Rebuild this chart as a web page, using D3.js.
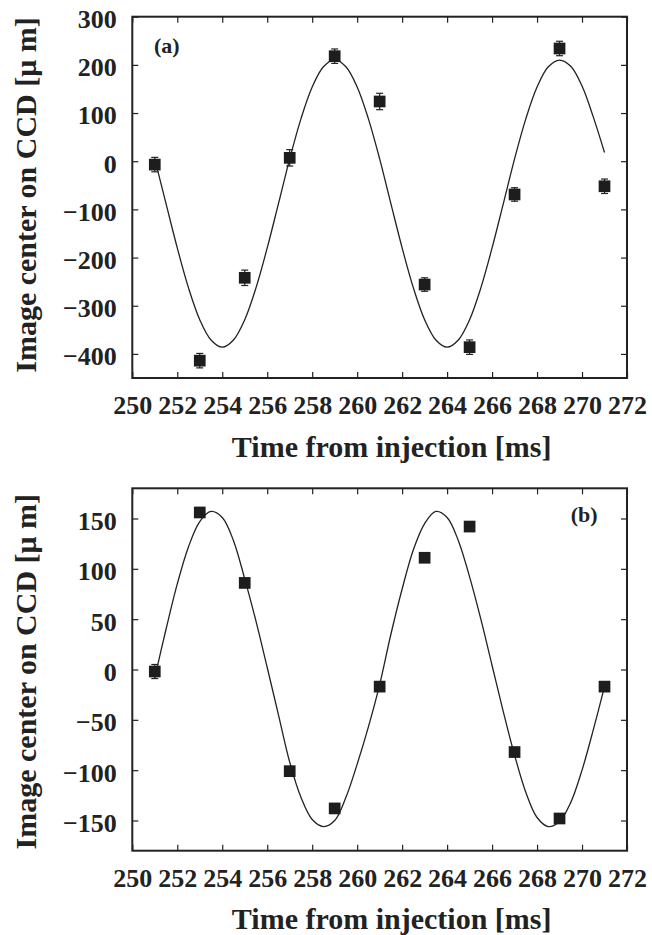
<!DOCTYPE html>
<html>
<head>
<meta charset="utf-8">
<script src="https://cdn.jsdelivr.net/npm/d3@7"></script>
<style>
  html, body { margin: 0; padding: 0; background: #fff; }
  svg { display: block; }
  text { font-family: "Liberation Serif", "Times New Roman", serif; font-weight: bold; fill: #222; }
</style>
</head>
<body>
<svg id="chart" width="652" height="935"></svg>
<script>
// ---- data ----
const timeA = [251, 253, 255, 257, 259, 261, 263, 265, 267, 269, 271];
const centerA = [-7, -414, -242, 7, 218, 124, -256, -386, -69, 234, -52];
const errA = [15, 15, 16, 17, 15, 17, 14, 15, 14, 15, 15];

const timeB = [251, 253, 255, 257, 259, 261, 263, 265, 267, 269, 271];
const centerB = [-2, 156, 86, -101, -138, -17, 111, 142, -82, -148, -17];
const errB = [7, 4, 4, 4, 4, 4, 4, 4, 4, 4, 4];

const fitTime = [251, 251.5, 252, 252.5, 253, 253.5, 254, 254.5, 255, 255.5,
                 256, 256.5, 257, 257.5, 258, 258.5, 259, 259.5, 260, 260.5,
                 261, 261.5, 262, 262.5, 263, 263.5, 264, 264.5, 265, 265.5,
                 266, 266.5, 267, 267.5, 268, 268.5, 269, 269.5, 270, 270.5, 271];
const fitA = [5, -88, -180, -263, -329, -371, -386, -371, -329, -263,
              -180, -88, 5, 88, 154, 196, 211, 196, 154, 88,
              5, -88, -180, -263, -329, -371, -386, -371, -329, -263,
              -180, -88, 5, 88, 154, 196, 210, 197, 156, 92, 18];
const fitB = [-8, 40, 85, 122, 147, 157, 151, 128, 90, 48,
              2, -45, -92, -127, -149, -156, -150, -127, -94, -57,
              -15, 35, 80, 119, 145, 157, 151, 128, 92, 50,
              4, -42, -85, -122, -147, -156, -151, -132, -100, -60, -17];

const xTicks = [250, 252, 254, 256, 258, 260, 262, 264, 266, 268, 270, 272];
const yTicksA = [300, 200, 100, 0, -100, -200, -300, -400];
const yTicksB = [150, 100, 50, 0, -50, -100, -150];

const xTitle = "Time from injection [ms]";
const yTitle = "Image center on CCD [\u03BC m]";

// ---- drawing ----
const svg = d3.select("#chart");
const ink = "#222";
const L = 132.3, R = 627;
const fmt = d => (d < 0 ? "\u2212" + Math.abs(d) : String(d));

function panel(opt) {
  const x = d3.scaleLinear().domain([250, 272]).range([L, R]);
  const y = d3.scaleLinear().domain(opt.ydom).range([opt.bottom, opt.top]);
  const g = svg.append("g");

  // axes with inward ticks
  const gx = g.append("g").attr("transform", `translate(0,${opt.bottom})`)
    .call(d3.axisBottom(x).tickValues(xTicks).tickSize(-6).tickPadding(17.5).tickFormat(d => d));
  const gxt = g.append("g").attr("transform", `translate(0,${opt.top})`)
    .call(d3.axisTop(x).tickValues(xTicks).tickSize(-6).tickFormat(""));
  const gy = g.append("g").attr("transform", `translate(${L},0)`)
    .call(d3.axisLeft(y).tickValues(opt.yticks).tickSize(-6).tickPadding(15.6).tickFormat(fmt));
  const gyr = g.append("g").attr("transform", `translate(${R},0)`)
    .call(d3.axisRight(y).tickValues(opt.yticks).tickSize(-6).tickFormat(""));
  [gx, gxt, gy, gyr].forEach(a => {
    a.select(".domain").remove();
    a.selectAll(".tick line").attr("stroke", ink).attr("stroke-width", 1.2);
    a.selectAll("text").attr("font-size", 26).attr("fill", ink)
      .attr("font-family", '"Liberation Serif", "Times New Roman", serif').attr("font-weight", "bold");
  });
  gy.selectAll("text").attr("dy", "0.42em");

  // frame
  g.append("rect").attr("x", L).attr("y", opt.top)
    .attr("width", R - L).attr("height", opt.bottom - opt.top)
    .attr("fill", "none").attr("stroke", ink).attr("stroke-width", 2);

  // fit curve
  const line = d3.line().x((d, i) => x(fitTime[i])).y(d => y(d)).curve(d3.curveCatmullRom);
  g.append("path").datum(opt.fit).attr("d", line)
    .attr("fill", "none").attr("stroke", ink).attr("stroke-width", 1.3);

  // error bars
  const eb = g.append("g").attr("stroke", ink).attr("stroke-width", 1.2);
  opt.t.forEach((t, i) => {
    const cx = x(t), y1 = y(opt.v[i] + opt.e[i]), y2 = y(opt.v[i] - opt.e[i]);
    eb.append("line").attr("x1", cx).attr("x2", cx).attr("y1", y1).attr("y2", y2);
    eb.append("line").attr("x1", cx - 3.5).attr("x2", cx + 3.5).attr("y1", y1).attr("y2", y1);
    eb.append("line").attr("x1", cx - 3.5).attr("x2", cx + 3.5).attr("y1", y2).attr("y2", y2);
  });

  // squares
  const s = 11.7;
  g.append("g").selectAll("rect").data(opt.t).join("rect")
    .attr("x", d => x(d) - s / 2)
    .attr("y", (d, i) => y(opt.v[i]) - s / 2)
    .attr("width", s).attr("height", s).attr("fill", "#1e1c1c");

  // panel label
  g.append("text").attr("x", opt.lx).attr("y", opt.ly).attr("font-size", 22).text(opt.label);

  // axis titles
  g.append("text").attr("x", 391.7).attr("y", opt.bottom + 78.5)
    .attr("text-anchor", "middle").attr("font-size", 30).text(xTitle);
  g.append("text")
    .attr("transform", `translate(35.5,${opt.ycenter}) rotate(-90)`)
    .attr("text-anchor", "middle").attr("font-size", 30).text(yTitle);
}

panel({ top: 16.7, bottom: 378, ydom: [-450, 300], yticks: yTicksA, ycenter: 195,
        t: timeA, v: centerA, e: errA, fit: fitA, label: "(a)", lx: 154, ly: 52.5 });
panel({ top: 488.3, bottom: 850.7, ydom: [-180, 180], yticks: yTicksB, ycenter: 671.7,
        t: timeB, v: centerB, e: errB, fit: fitB, label: "(b)", lx: 570.7, ly: 522 });
</script>
</body>
</html>
